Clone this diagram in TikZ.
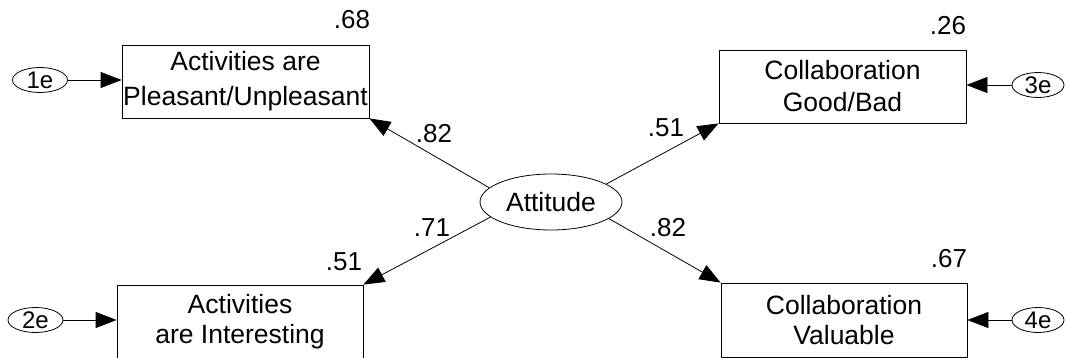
\documentclass[tikz,border=0pt]{standalone}
\usepackage{fontspec}
\setmainfont{Liberation Sans}
\usetikzlibrary{arrows.meta,shapes.geometric}
\begin{document}
\begin{tikzpicture}[x=1pt,y=-1pt,
  box/.style={draw, line width=0.8pt, inner sep=0pt, align=center, font=\fontsize{26.5}{32}\selectfont},
  err/.style={draw, ellipse, line width=0.8pt, inner sep=0pt, minimum width=55pt, minimum height=25pt, font=\fontsize{24}{26}\selectfont},
  num/.style={font=\fontsize{26}{30}\selectfont, inner sep=0pt},
  arr/.style={line width=0.8pt, -{Triangle[length=21pt,width=16pt]}}
]
\clip (0,0) rectangle (1067,358);
% observed variables
\node[box, minimum width=247pt, minimum height=73pt, font=\fontsize{26.5}{35}\selectfont] (tl) at (245.5,81.5) {Activities are\\Pleasant/Unpleasant};
\node[box, minimum width=247pt, minimum height=73pt] (tr) at (842.5,86.5) {Collaboration\\Good/Bad};
\node[box, minimum width=246pt, minimum height=74pt, font=\fontsize{26.5}{30}\selectfont] (bl) at (240,322) {Activities\\are Interesting};
\node[box, minimum width=246pt, minimum height=74pt, font=\fontsize{26.5}{30}\selectfont] (br) at (844,320) {Collaboration\\Valuable};
% latent
\node[draw, ellipse, line width=0.8pt, inner sep=0pt, minimum width=142pt, minimum height=56pt, font=\fontsize{26.5}{30}\selectfont] (att) at (551,202) {Attitude};
% errors
\node[err] (e1) at (40,80) {1e};
\node[err, minimum width=52pt] (e3) at (1038,85) {3e};
\node[err] (e2) at (35.5,320) {2e};
\node[err, minimum width=52pt] (e4) at (1038,320) {4e};
% paths
\draw[arr] (e1) -- (e1 -| tl.west);
\draw[arr] (e3) -- (e3 -| tr.east);
\draw[arr] (e2) -- (e2 -| bl.west);
\draw[arr] (e4) -- (e4 -| br.east);
\draw[arr] (att.167) -- (tl.south east);
\draw[arr] (att.18) -- (tr.south west);
\draw[arr] (att.194) -- (bl.north east);
\draw[arr] (att.344) -- (br.north west);
% coefficients
\node[num] (c1) at (434,134) {.82};
\node[num] (c2) at (666,128) {.51};
\node[num] (c3) at (432,228) {.71};
\node[num] (c4) at (668,228) {.82};
% squared multiple correlations
\node[num] (r1) at (352,20) {.68};
\node[num] (r2) at (948,26) {.26};
\node[num] (r3) at (344,262) {.51};
\node[num] (r4) at (949,259) {.67};
\end{tikzpicture}
\end{document}
